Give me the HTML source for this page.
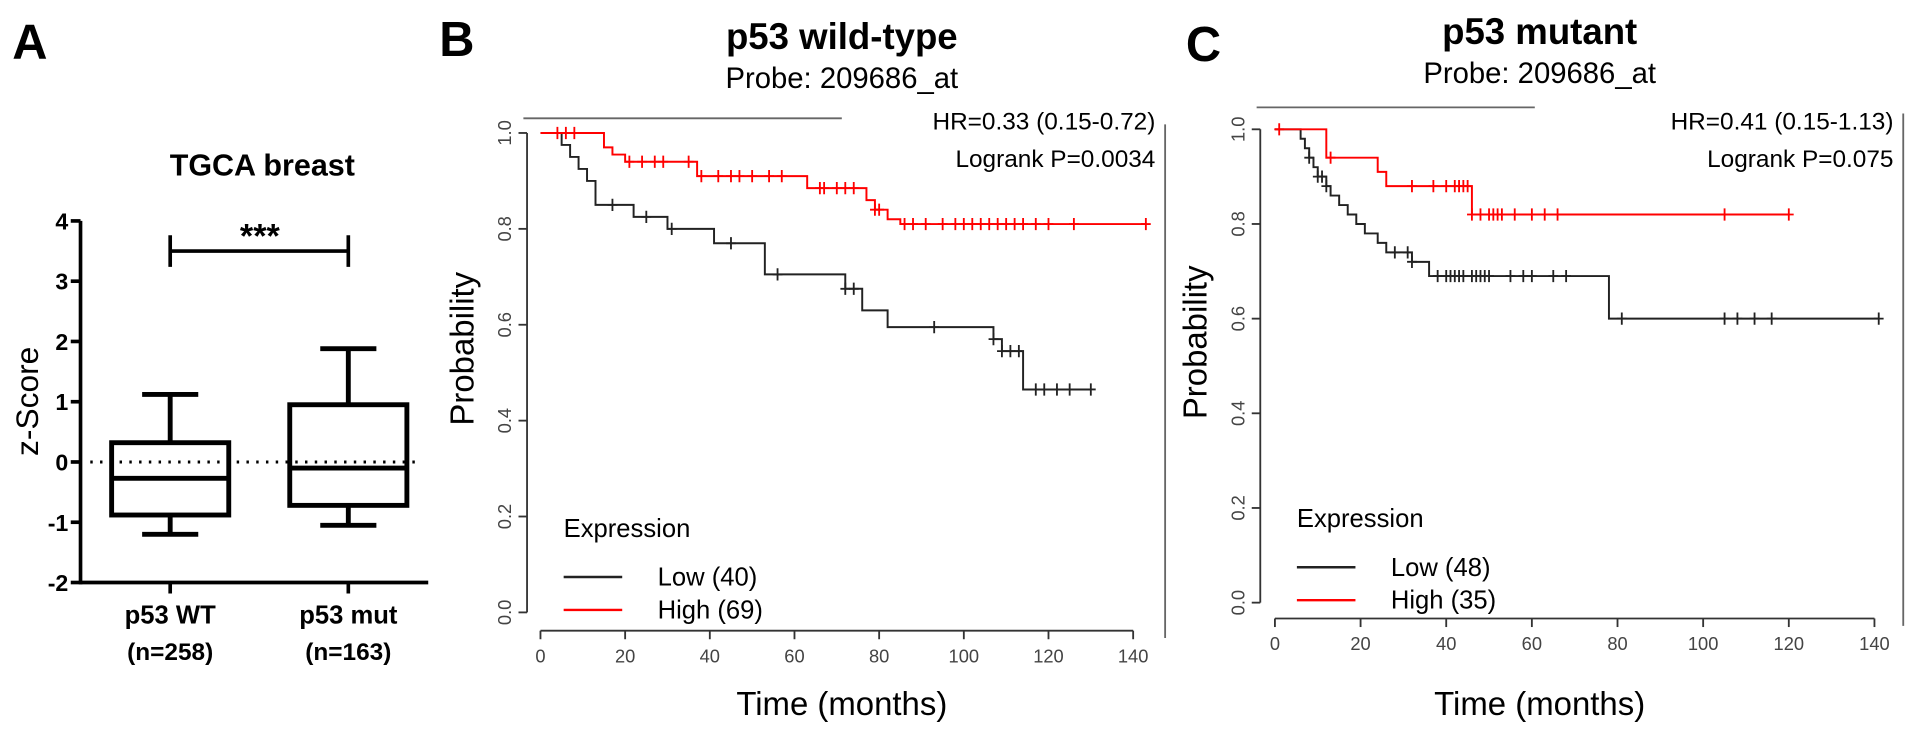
<!DOCTYPE html>
<html><head><meta charset="utf-8"><style>
html,body{margin:0;padding:0;background:#fff;}
svg{display:block;font-family:"Liberation Sans",Arial,sans-serif;}
</style></head><body>
<svg id="fig" width="1913" height="735" viewBox="0 0 1568 602.5" preserveAspectRatio="none" xmlns="http://www.w3.org/2000/svg">
<text x="10" y="48" font-size="40" font-weight="bold">A</text>
<text x="360" y="46" font-size="40" font-weight="bold">B</text>
<text x="972" y="50" font-size="40" font-weight="bold">C</text>
<g id="pa"></g>
<g id="pb"></g>
<g id="pc"></g>
</svg>
<script>
// ---- Panel A data ----
const boxCats = ["p53 WT", "p53 mut"];
const boxN = ["(n=258)", "(n=163)"];
const boxMin = [-1.2, -1.05];
const boxQ1 = [-0.88, -0.72];
const boxMed = [-0.27, -0.1];
const boxQ3 = [0.32, 0.95];
const boxMax = [1.12, 1.88];
const zTicks = [-2, -1, 0, 1, 2, 3, 4];

// ---- Panel B data ----
const bLowT = [0, 5, 7, 9, 11, 13, 22, 30, 41, 53, 72, 76, 82, 107, 109, 114, 130];
const bLowS = [1.0, 0.975, 0.95, 0.925, 0.9, 0.85, 0.825, 0.8, 0.77, 0.705, 0.675, 0.63, 0.595, 0.57, 0.545, 0.465, 0.465];
const bLowCens = [17, 25, 31, 45, 56, 72, 74, 93, 107, 109, 111, 113, 117, 119, 122, 125, 130];
const bHighT = [0, 15, 17, 20, 37, 63, 77, 79, 82, 85, 143];
const bHighS = [1.0, 0.97, 0.955, 0.94, 0.91, 0.885, 0.86, 0.84, 0.82, 0.81, 0.81];
const bHighCens = [4, 6, 8, 21, 24, 27, 29, 35, 38, 42, 45, 47, 50, 54, 57, 66, 67, 70, 72, 74, 79, 80, 86, 88, 91, 95, 98, 100, 102, 104, 106, 108, 110, 112, 114, 117, 120, 126, 143];

// ---- Panel C data ----
const cLowT = [0, 6, 7, 8, 9, 10, 12, 13, 15, 17, 19, 21, 24, 26, 32, 36, 78, 141];
const cLowS = [1.0, 0.98, 0.96, 0.94, 0.92, 0.9, 0.88, 0.86, 0.84, 0.82, 0.8, 0.78, 0.76, 0.74, 0.72, 0.69, 0.6, 0.6];
const cLowCens = [8, 10, 11, 12, 28, 31, 32, 38, 40, 41, 42, 43, 44, 46, 47, 48, 49, 50, 55, 58, 60, 65, 68, 81, 105, 108, 112, 116, 141];
const cHighT = [0, 12, 24, 26, 46, 120];
const cHighS = [1.0, 0.94, 0.91, 0.88, 0.82, 0.82];
const cHighCens = [1, 13, 32, 37, 40, 42, 43, 44, 45, 46, 48, 50, 51, 52, 53, 56, 60, 63, 66, 105, 120];
const timeTicks = [0, 20, 40, 60, 80, 100, 120, 140];
const probTicks = [0.0, 0.2, 0.4, 0.6, 0.8, 1.0];

const NS = "http://www.w3.org/2000/svg";
function mk(parent, tag, attrs, text) {
  const e = document.createElementNS(NS, tag);
  for (const k in attrs) e.setAttribute(k, attrs[k]);
  if (text !== undefined) e.textContent = text;
  parent.appendChild(e);
  return e;
}

// ---------- Panel A ----------
(function () {
  const g = document.getElementById('pa');
  const y = v => 378.7 - v * 49.4;
  const axX = 66;
  const xc = [139.5, 285.5];
  const hw = 48;
  let t = mk(g, 'text', {x: 215, y: 144, 'font-size': 25, 'font-weight': 'bold', 'text-anchor': 'middle'}, 'TGCA breast');
  
  
  let ax = mk(g, 'line', {x1: axX, y1: y(4), x2: axX, y2: y(-2) + 1.5, stroke: '#000', 'stroke-width': 3});
  
  
  let xax = mk(g, 'line', {x1: axX, y1: y(-2), x2: 351, y2: y(-2), stroke: '#000', 'stroke-width': 3});
  
  
  zTicks.forEach(v => {
    mk(g, 'line', {x1: axX - 8, y1: y(v), x2: axX, y2: y(v), stroke: '#000', 'stroke-width': 3});
    const tl = mk(g, 'text', {x: axX - 10, y: y(v) + 7, 'font-size': 19, 'font-weight': 'bold', 'text-anchor': 'end'}, String(v));
    
    
  });
  const zl = mk(g, 'text', {x: 0, y: 0, 'font-size': 26, 'text-anchor': 'middle', transform: 'translate(31,329) rotate(-90)'}, 'z-Score');
  
  
  mk(g, 'line', {x1: 74, y1: y(0), x2: 345, y2: y(0), stroke: '#000', 'stroke-width': 2.5, 'stroke-dasharray': '2 6'});
  boxCats.forEach((c, i) => {
    const bg = mk(g, 'g', {});
    
    
    const x = xc[i];
    const s = {stroke: '#000', 'stroke-width': 4, fill: 'none'};
    mk(bg, 'rect', Object.assign({x: x - hw, y: y(boxQ3[i]), width: 2 * hw, height: y(boxQ1[i]) - y(boxQ3[i])}, s));
    mk(bg, 'line', Object.assign({x1: x - hw, x2: x + hw, y1: y(boxMed[i]), y2: y(boxMed[i])}, s));
    mk(bg, 'line', Object.assign({x1: x, x2: x, y1: y(boxQ3[i]), y2: y(boxMax[i])}, s));
    mk(bg, 'line', Object.assign({x1: x, x2: x, y1: y(boxQ1[i]), y2: y(boxMin[i])}, s));
    mk(bg, 'line', Object.assign({x1: x - 23, x2: x + 23, y1: y(boxMax[i]), y2: y(boxMax[i])}, s));
    mk(bg, 'line', Object.assign({x1: x - 23, x2: x + 23, y1: y(boxMin[i]), y2: y(boxMin[i])}, s));
    mk(g, 'line', {x1: x, y1: y(-2), x2: x, y2: y(-2) + 9, stroke: '#000', 'stroke-width': 3});
    const cl = mk(g, 'text', {x: x, y: 511, 'font-size': 21, 'font-weight': 'bold', 'text-anchor': 'middle'}, c);
    
    
    const nl = mk(g, 'text', {x: x, y: 541, 'font-size': 20, 'font-weight': 'bold', 'text-anchor': 'middle'}, boxN[i]);
    
    
  });
  const br = mk(g, 'path', {d: `M${xc[0]},${y(3.5)}H${xc[1]}M${xc[0]},${y(3.5) - 13}V${y(3.5) + 13}M${xc[1]},${y(3.5) - 13}V${y(3.5) + 13}`, stroke: '#000', 'stroke-width': 3, fill: 'none'});
  
  
  const st = mk(g, 'text', {x: 213, y: 203, 'font-size': 28, 'font-weight': 'bold', 'text-anchor': 'middle'}, '***');
  
  
})();

// ---------- KM panels ----------
function km(id, o) {
  const g = document.getElementById(id);
  const X = t => o.x0 + t * o.sx;
  const Y = p => o.y0 - p * o.sy;
  const title = mk(g, 'text', {x: o.cx, y: o.titleY, 'font-size': 30, 'font-weight': 'bold', 'text-anchor': 'middle'}, o.title);
  
  
  const pr = mk(g, 'text', {x: o.cx, y: o.titleY + 32, 'font-size': 24, 'text-anchor': 'middle'}, 'Probe: 209686_at');
  
  
  const hr = mk(g, 'text', {x: o.rx - 8, y: o.hrY, 'font-size': 20, 'text-anchor': 'end'}, o.hr);
  
  
  const lr = mk(g, 'text', {x: o.rx - 8, y: o.hrY + 31, 'font-size': 20, 'text-anchor': 'end'}, o.lr);
  
  
  mk(g, 'line', {x1: o.ax - 3, y1: o.top, x2: o.topEnd, y2: o.top, stroke: '#666', 'stroke-width': 1.5});
  mk(g, 'line', {x1: o.rx, y1: o.top + 5, x2: o.rx, y2: o.bot + 6, stroke: '#666', 'stroke-width': 1.5});
  const ya = mk(g, 'line', {x1: o.ax, y1: Y(1), x2: o.ax, y2: Y(0), stroke: '#333', 'stroke-width': 1.5});
  
  
  const xa = mk(g, 'line', {x1: X(0), y1: o.bot, x2: X(140), y2: o.bot, stroke: '#333', 'stroke-width': 1.5});
  
  
  probTicks.forEach(p => {
    mk(g, 'line', {x1: o.ax - 7, y1: Y(p), x2: o.ax, y2: Y(p), stroke: '#333', 'stroke-width': 1.5});
    const tl = mk(g, 'text', {x: 0, y: 0, 'font-size': 15, fill: '#444', 'text-anchor': 'middle', transform: `translate(${o.ax - 13},${Y(p)}) rotate(-90)`}, p.toFixed(1));
    
    
  });
  timeTicks.forEach(t => {
    mk(g, 'line', {x1: X(t), y1: o.bot, x2: X(t), y2: o.bot + 7, stroke: '#333', 'stroke-width': 1.5});
    const tl = mk(g, 'text', {x: X(t), y: o.bot + 26, 'font-size': 15, fill: '#444', 'text-anchor': 'middle'}, String(t));
    
    
  });
  const xt = mk(g, 'text', {x: o.cx, y: 586, 'font-size': 27, 'text-anchor': 'middle'}, 'Time (months)');
  
  
  const yt = mk(g, 'text', {x: 0, y: 0, 'font-size': 27, 'text-anchor': 'middle', transform: `translate(${o.ax - 44},${Y(0.55)}) rotate(-90)`}, 'Probability');
  
  
  function curve(T, S, C, col, name) {
    let d = `M${X(T[0])},${Y(S[0])}`;
    for (let i = 1; i < T.length; i++) d += `H${X(T[i])}V${Y(S[i])}`;
    const p = mk(g, 'path', {d: d, stroke: col, 'stroke-width': 1.6, fill: 'none'});
    
    
    C.forEach(t => {
      let s = S[0];
      for (let i = 0; i < T.length; i++) if (T[i] <= t) s = S[i];
      const c = mk(g, 'path', {d: `M${X(t) - 4},${Y(s)}h8M${X(t)},${Y(s) - 5}v10`, stroke: col, 'stroke-width': 1.5});
      
      
    });
  }
  curve(o.lowT, o.lowS, o.lowC, '#222', 'low-expression-curve');
  curve(o.highT, o.highS, o.highC, '#f00', 'high-expression-curve');
  const lg = mk(g, 'g', {});
  
  
  const lx = o.ax + 30, ly = o.legY;
  mk(lg, 'text', {x: lx, y: ly, 'font-size': 21}, 'Expression');
  mk(lg, 'line', {x1: lx, y1: ly + 33, x2: lx + 48, y2: ly + 33, stroke: '#222', 'stroke-width': 2});
  const l1 = mk(lg, 'text', {x: lx + 77, y: ly + 40, 'font-size': 21}, o.lowLab);
  
  
  mk(lg, 'line', {x1: lx, y1: ly + 60, x2: lx + 48, y2: ly + 60, stroke: '#f00', 'stroke-width': 2});
  const l2 = mk(lg, 'text', {x: lx + 77, y: ly + 67, 'font-size': 21}, o.highLab);
  
  
}
km('pb', {x0: 443, sx: 3.47, y0: 502, sy: 393, ax: 432, bot: 517, top: 97, topEnd: 690, rx: 955,
  cx: 690, titleY: 40, hrY: 106, title: 'p53 wild-type', hr: 'HR=0.33 (0.15-0.72)', lr: 'Logrank P=0.0034',
  lowT: bLowT, lowS: bLowS, lowC: bLowCens, highT: bHighT, highS: bHighS, highC: bHighCens,
  legY: 440, lowLab: 'Low (40)', highLab: 'High (69)'});
km('pc', {x0: 1045, sx: 3.51, y0: 494, sy: 388, ax: 1033, bot: 507, top: 88, topEnd: 1258, rx: 1560,
  cx: 1262, titleY: 36, hrY: 106, title: 'p53 mutant', hr: 'HR=0.41 (0.15-1.13)', lr: 'Logrank P=0.075',
  lowT: cLowT, lowS: cLowS, lowC: cLowCens, highT: cHighT, highS: cHighS, highC: cHighCens,
  legY: 432, lowLab: 'Low (48)', highLab: 'High (35)'});
</script>
</body></html>
